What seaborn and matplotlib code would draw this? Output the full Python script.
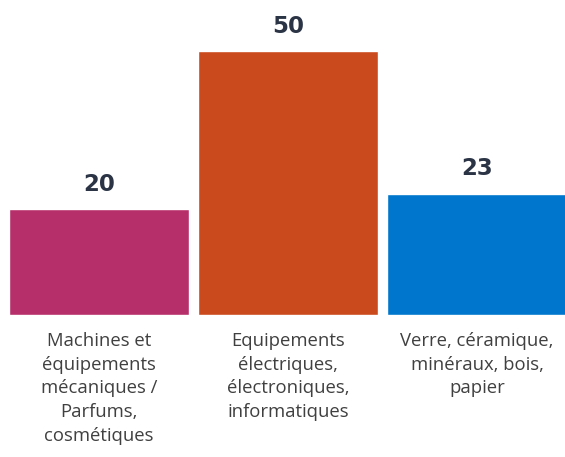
import matplotlib
matplotlib.use("Agg")
import matplotlib.pyplot as plt
import seaborn as sns
import pandas as pd

categories = [
    "Machines et\néquipements\nmécaniques /\nParfums,\ncosmétiques",
    "Equipements\nélectriques,\nélectroniques,\ninformatiques",
    "Verre, céramique,\nminéraux, bois,\npapier",
]
values = [20, 50, 23]
colors = ["#B72F6A", "#CB4A1D", "#0077CC"]

df = pd.DataFrame({"categorie": categories, "valeur": values})

sns.set_theme(style="white")
fig = plt.figure(figsize=(5.65, 4.57), dpi=100)
ax = fig.add_axes([0, (457 - 315) / 457, 1, 315 / 457])

sns.barplot(data=df, x="categorie", y="valeur", hue="categorie",
            palette=colors, width=0.952, saturation=1, legend=False, ax=ax)

ax.set_xlim(-0.524, 2.466)
ax.set_ylim(0, 59.66)
for s in ax.spines.values():
    s.set_visible(False)
ax.set_xlabel("")
ax.set_ylabel("")
ax.set_yticks([])
ax.tick_params(axis="x", length=0, pad=12)
ax.set_xticks(range(len(categories)))
ax.set_xticklabels(categories, fontsize=13.3, color="#404040",
                   family="Open Sans", linespacing=1.42, va="top")

for i, v in enumerate(values):
    ax.annotate(f"{v}", (i, v), xytext=(0, 18), textcoords="offset points",
                ha="center", va="center", fontsize=16.5, fontweight="heavy",
                color="#2B3445", family="DejaVu Sans")

fig.savefig("out.png", dpi=100)
